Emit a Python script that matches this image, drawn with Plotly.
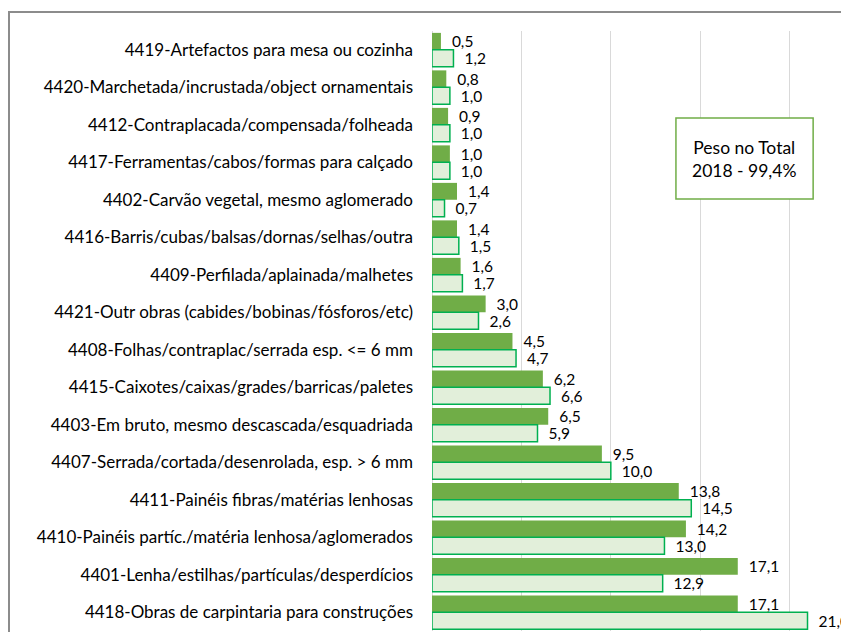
import plotly.graph_objects as go

# === Data (top to bottom as shown) ===
CATEGORIES = [
    "4419-Artefactos para mesa ou cozinha",
    "4420-Marchetada/incrustada/object ornamentais",
    "4412-Contraplacada/compensada/folheada",
    "4417-Ferramentas/cabos/formas para calçado",
    "4402-Carvão vegetal, mesmo aglomerado",
    "4416-Barris/cubas/balsas/dornas/selhas/outra",
    "4409-Perfilada/aplainada/malhetes",
    "4421-Outr obras (cabides/bobinas/fósforos/etc)",
    "4408-Folhas/contraplac/serrada esp. <= 6 mm",
    "4415-Caixotes/caixas/grades/barricas/paletes",
    "4403-Em bruto, mesmo descascada/esquadriada",
    "4407-Serrada/cortada/desenrolada, esp. > 6 mm",
    "4411-Painéis fibras/matérias lenhosas",
    "4410-Painéis partíc./matéria lenhosa/aglomerados",
    "4401-Lenha/estilhas/partículas/desperdícios",
    "4418-Obras de carpintaria para construções",
]
VALUES_2018 = [0.5, 0.8, 0.9, 1.0, 1.4, 1.4, 1.6, 3.0, 4.5, 6.2, 6.5, 9.5, 13.8, 14.2, 17.1, 17.1]
VALUES_2017 = [1.2, 1.0, 1.0, 1.0, 0.7, 1.5, 1.7, 2.6, 4.7, 6.6, 5.9, 10.0, 14.5, 13.0, 12.9, 21.0]
BOX_TEXT = "Peso no Total<br>2018 - 99,4%"

# === Colors ===
DARK_GREEN = "#70AD47"
LIGHT_FILL = "#E2EFDA"
LIGHT_LINE = "#00B050"
GRID = "#D9D9D9"
FRAME = "#8C8C8C"

FONT = "Lato"

fig = go.Figure()

fig.add_trace(go.Bar(
    name="2018",
    y=CATEGORIES,
    x=VALUES_2018,
    orientation="h",
    marker=dict(color=DARK_GREEN, line=dict(width=0)),
    texttemplate="\u00a0\u00a0%{x:.1f}",
    textposition="outside",
    constraintext="none",
    cliponaxis=False,
    textfont=dict(color="black", size=15.5, family=FONT),
))
fig.add_trace(go.Bar(
    name="2017",
    y=CATEGORIES,
    x=VALUES_2017,
    orientation="h",
    marker=dict(color=LIGHT_FILL, line=dict(color=LIGHT_LINE, width=1.5)),
    texttemplate="\u00a0\u00a0%{x:.1f}",
    textposition="outside",
    constraintext="none",
    cliponaxis=False,
    textfont=dict(color="black", size=15.5, family=FONT),
))

# outer chart frame (only top/left edges visible in the crop)
fig.add_shape(
    type="rect", xref="paper", yref="paper",
    x0=-1.0144, x1=1.2, y0=-0.2, y1=1.0317,
    line=dict(color=FRAME, width=2), fillcolor="rgba(0,0,0,0)",
    layer="below",
)

# "Peso no Total" box
fig.add_shape(
    type="rect", xref="paper", yref="paper",
    x0=0.585, x1=0.914, y0=0.72, y1=0.855,
    line=dict(color=DARK_GREEN, width=1.5), fillcolor="white",
    layer="above",
)
fig.add_annotation(
    xref="paper", yref="paper", x=0.7495, y=0.7875,
    xanchor="center", yanchor="middle",
    text=BOX_TEXT, showarrow=False, align="center",
    font=dict(color="black", size=17.5, family=FONT),
)

# page body has an 8px margin, so the figure is sized 8px smaller
fig.update_layout(
    barmode="group",
    bargap=0.1,
    bargroupgap=0,
    separators=",.",
    showlegend=False,
    width=841,
    height=624,
    margin=dict(l=424, r=0, t=23, b=1),
    plot_bgcolor="white",
    paper_bgcolor="white",
    font=dict(family=FONT, size=17, color="black"),
    xaxis=dict(
        range=[0, 23.32],
        dtick=5,
        showgrid=True,
        gridcolor=GRID,
        gridwidth=1,
        zeroline=True,
        zerolinecolor=GRID,
        zerolinewidth=1,
        showticklabels=False,
        fixedrange=True,
    ),
    yaxis=dict(
        autorange="reversed",
        showgrid=False,
        showline=False,
        ticks="",
        ticklabelstandoff=18,
        tickfont=dict(family=FONT, size=17, color="black"),
    ),
)

fig.write_html("out.html")
